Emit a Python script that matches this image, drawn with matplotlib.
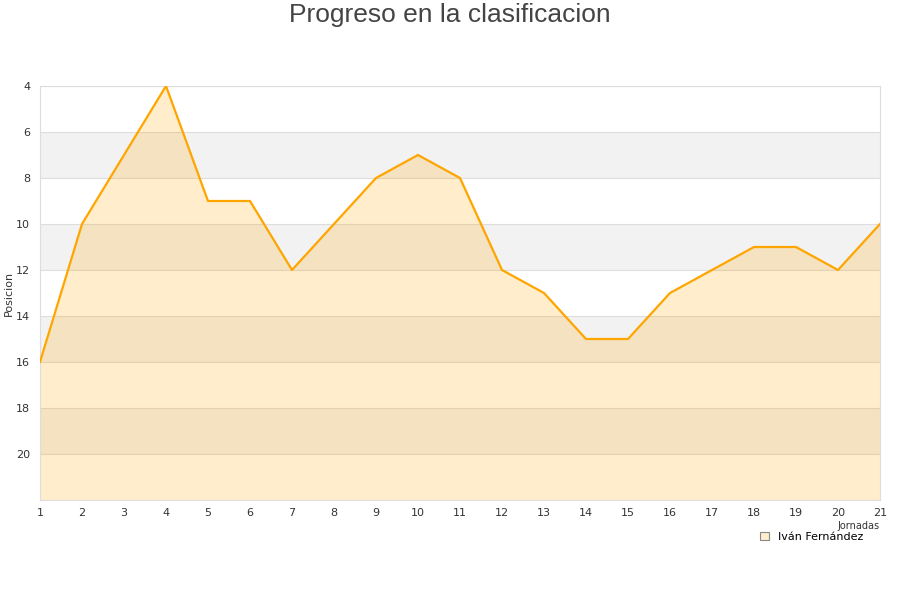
import matplotlib
matplotlib.use('Agg')
import matplotlib.pyplot as plt
from matplotlib.patches import Patch

jornadas = list(range(1, 22))
posicion = [16, 10, 7, 4, 9, 9, 12, 10, 8, 7, 8, 12, 13, 15, 15, 13, 12, 11, 11, 12, 10]
yticks = [4, 6, 8, 10, 12, 14, 16, 18, 20]
jugador = 'Iván Fernández'

fig = plt.figure(figsize=(9, 6), dpi=100)
ax = fig.add_axes([40/900, 100/600, 840/900, 414/600])

ax.set_xlim(1, 21)
ax.set_ylim(22, 4)

# bandas alternas
for y0 in range(6, 22, 4):
    ax.axhspan(y0, y0 + 2, color='#f2f2f2', zorder=0, lw=0)
for y in yticks:
    ax.axhline(y, color='#dddddd', lw=0.8, zorder=1)

ax.fill_between(jornadas, posicion, 22, color='#ffa500', alpha=0.2, lw=0, zorder=2)
ax.plot(jornadas, posicion, color='#ffa500', lw=1.6, zorder=3)

ax.set_xticks(jornadas)
ax.set_yticks(yticks)
ax.tick_params(length=0, labelsize=8, colors='#333333', pad=6)
ax.tick_params(axis='y', pad=7)
for s in ax.spines.values():
    s.set_color('#dddddd')
    s.set_linewidth(0.8)

fig.text(9/900, 1 - 293/600, 'Posicion', fontsize=8, color='#333333',
         rotation=90, ha='center', va='center')
ax.set_xlabel('Jornadas', fontsize=7, color='#333333', ha='right', va='center')
ax.xaxis.set_label_coords(1.0, -0.062)

fig.text(0.5, 1 - 15/600, 'Progreso en la clasificacion', fontsize=19, color='#444444',
         ha='center', va='center', family=['Liberation Sans', 'DejaVu Sans'])

handle = Patch(facecolor='#ffedcc', edgecolor='#888888', lw=0.8)
leg = fig.legend([handle], [jugador], loc='center', bbox_to_anchor=(0.902, 0.105),
                 fontsize=8, frameon=False, handlelength=0.8, handleheight=0.8,
                 handletextpad=0.8, borderpad=0.3)

fig.savefig('out.png', dpi=100)
